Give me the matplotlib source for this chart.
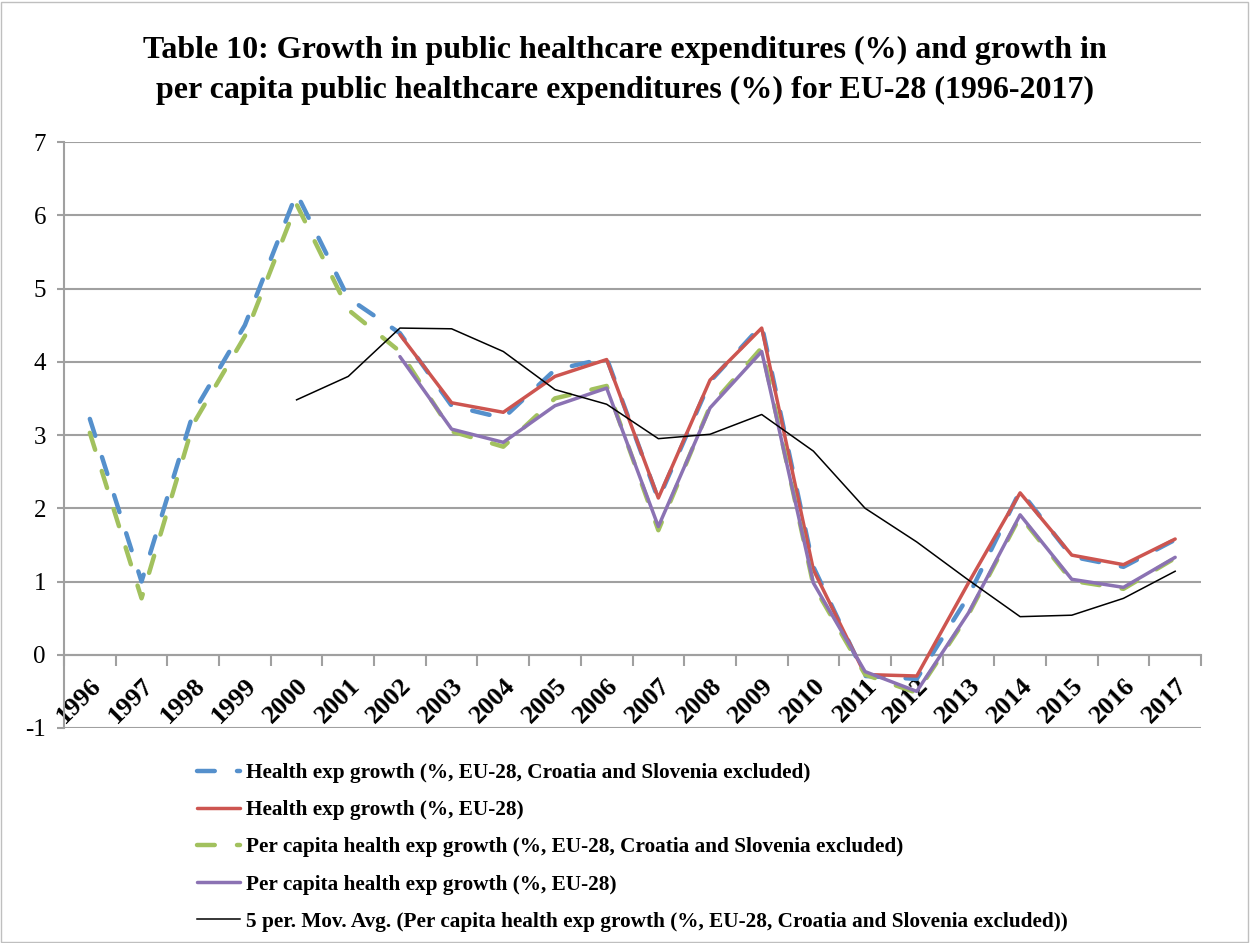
import numpy as np
import matplotlib
matplotlib.use("Agg")
import matplotlib.pyplot as plt
from matplotlib.patches import Rectangle

# Annual growth rates (%), EU-28, 1996-2017
years = [str(y) for y in range(1996, 2018)]

health_exp_excl = [3.22, 1.00, 3.30, 4.50, 6.30, 4.87, 4.39, 3.40, 3.23, 3.89, 4.05,
                   2.12, 3.73, 4.50, 1.20, -0.29, -0.33, 0.80, 2.24, 1.34, 1.20, 1.57]
health_exp_eu28 = [np.nan, np.nan, np.nan, np.nan, np.nan, np.nan, 4.37, 3.44, 3.31, 3.80, 4.03,
                   2.14, 3.75, 4.46, 1.16, -0.27, -0.29, 0.98, 2.21, 1.36, 1.23, 1.58]
per_capita_excl = [3.03, 0.77, 3.15, 4.35, 6.15, 4.71, 4.14, 3.05, 2.84, 3.50, 3.67,
                   1.70, 3.39, 4.19, 0.95, -0.27, -0.52, 0.55, 1.89, 1.01, 0.90, 1.32]
per_capita_eu28 = [np.nan, np.nan, np.nan, np.nan, np.nan, np.nan, 4.07, 3.08, 2.90, 3.40, 3.64,
                   1.75, 3.37, 4.14, 0.98, -0.23, -0.50, 0.57, 1.91, 1.03, 0.92, 1.33]
moving_avg = [np.nan, np.nan, np.nan, np.nan, 3.48, 3.80, 4.46, 4.45, 4.14, 3.62, 3.42,
              2.95, 3.01, 3.28, 2.78, 2.00, 1.54, 1.02, 0.52, 0.54, 0.77, 1.14]

labels = [
    "Health exp growth (%, EU-28, Croatia and Slovenia excluded)",
    "Health exp growth (%, EU-28)",
    "Per capita health exp growth (%, EU-28, Croatia and Slovenia excluded)",
    "Per capita health exp growth (%, EU-28)",
    "5 per. Mov. Avg. (Per capita health exp growth (%, EU-28, Croatia and Slovenia excluded))",
]

serif = ["Liberation Serif", "DejaVu Serif"]
plt.rcParams["font.family"] = serif
plt.rcParams["axes.unicode_minus"] = False

fig = plt.figure(figsize=(12.5, 9.43), dpi=100)
ax = fig.add_axes([0.0512, 0.2280, 0.9096, 0.6214])

x = np.arange(len(years))
dash = (0, (4.0, 5.0))

ax.plot(x, health_exp_excl, color="#5590CC", lw=3.2, linestyle=dash,
        dash_capstyle="round", label=labels[0], zorder=3)
ax.plot(x, health_exp_eu28, color="#CD5550", lw=2.5, solid_capstyle="round",
        solid_joinstyle="round", label=labels[1], zorder=4)
ax.plot(x, per_capita_excl, color="#A2C15E", lw=3.2, linestyle=dash,
        dash_capstyle="round", label=labels[2], zorder=5)
ax.plot(x, per_capita_eu28, color="#8B72B3", lw=2.5, solid_capstyle="round",
        solid_joinstyle="round", label=labels[3], zorder=6)
ax.plot(x, moving_avg, color="black", lw=1.1, label=labels[4], zorder=7)

ax.set_xlim(-0.5, len(years) - 0.5)
ax.set_ylim(-1, 7)

# gridlines and axes styled like an office chart
grid_color = "#A0A0A0"
ax.set_yticks(range(-1, 8))
ax.yaxis.grid(True, color=grid_color, lw=1.5, zorder=0)
ax.set_axisbelow(True)
for side in ["top", "right"]:
    ax.spines[side].set_visible(False)
ax.spines["left"].set_color(grid_color)
ax.spines["left"].set_linewidth(1.5)
ax.spines["bottom"].set_position(("data", 0))
ax.spines["bottom"].set_color(grid_color)
ax.spines["bottom"].set_linewidth(1.5)

ax.tick_params(axis="y", length=5, width=1.5, color=grid_color, labelsize=18, pad=8)
ax.set_xticks(np.arange(-0.5, len(years), 1.0))
ax.set_xticks(x, minor=True)
ax.tick_params(axis="x", which="major", length=8, width=1.5, color=grid_color,
               direction="out", labelbottom=False)
ax.tick_params(axis="x", which="minor", length=0, pad=14)
ax.set_xticklabels(years, minor=True, rotation=45, ha="right", va="top",
                   rotation_mode="anchor", fontsize=19, fontweight="bold")

fig.text(0.5, 0.925, "Table 10: Growth in public healthcare expenditures (%) and growth in\n"
         "per capita public healthcare expenditures (%) for EU-28 (1996-2017)",
         ha="center", va="center", fontsize=23, fontweight="bold", linespacing=1.48)

fig.legend(loc="upper left", bbox_to_anchor=(197 / 1250, 1 - 763 / 943),
           frameon=False, borderpad=0, borderaxespad=0, handlelength=2.0,
           handletextpad=0.3, labelspacing=0.81,
           prop={"family": serif, "weight": "bold", "size": 15.3})

fig.patches.append(Rectangle((0.001, 0.001), 0.997, 0.997, transform=fig.transFigure,
                             fill=False, edgecolor="#BFBFBF", lw=1.0))

fig.savefig("out.png", dpi=100)
